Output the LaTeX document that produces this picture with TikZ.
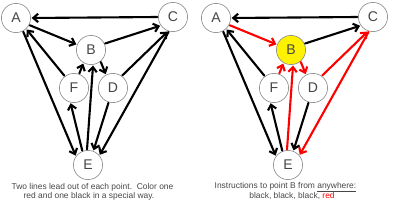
\documentclass[tikz,border=0pt]{standalone}
\usepackage{fontspec}
\setmainfont{Liberation Sans}
\usetikzlibrary{arrows.meta}
\definecolor{ringgray}{RGB}{140,140,140}
\definecolor{textgray}{RGB}{70,70,70}
\begin{document}
\begin{tikzpicture}[x=0.05cm,y=-0.05cm,line join=round,line cap=round,>={Straight Barb[length=7pt,width=12pt]}]
	\tikzset{pt/.style={circle,draw=ringgray,line width=0.9pt,minimum size=1.46cm,inner sep=0pt,text=textgray,font=\fontsize{20}{20}\selectfont},
		link/.style={->,line width=3pt,shorten >=1pt,shorten <=1pt},
		caption/.style={text=textgray,font=\fontsize{12}{14}\selectfont,inner sep=0pt}}
	\useasboundingbox (0,0) rectangle (400,206);
	% the two copies of the six points
	\foreach \ox/\s/\bfill in {0/l/white,200/r/yellow}{
		\node[pt] (\s A) at (\ox+16,18) {A};
		\node[pt] (\s C) at (\ox+173,17) {C};
		\node[pt,fill=\bfill] (\s B) at (\ox+91,50) {B};
		\node[pt] (\s F) at (\ox+74,88) {F};
		\node[pt] (\s D) at (\ox+113,88) {D};
		\node[pt] (\s E) at (\ox+88,165) {E};
	}
	% from/angle/to/angle/colour on the right
	\foreach \a/\sa/\b/\sb/\c in {C/180/A/0/black, A/-28/B/159/red, F/128/A/-47/black,
		A/-62/E/144/black, B/25/C/215/black, F/70/B/240/red, B/-50/D/118/red,
		D/54/C/251/red, C/-106/E/40/red, D/-107/E/69/black, E/112/F/-104/black, E/94/B/-82/red}
	{
		\draw[link] (l\a.\sa) -- (l\b.\sb);
		\draw[link,\c] (r\a.\sa) -- (r\b.\sb);
	}
	\node[caption] (lcap1) at (92.5,187) {Two lines lead out of each point.\ \ Color one};
	\node[caption] (lcap2) at (89,196) {red and one black in a special way.};
	\node[caption] (rcap1) at (285.5,187) {Instructions to point B from \underline{anywhere:}};
	\node[caption] (rcap2) at (292,196) {black, black, black, \textcolor{red}{red}};
\end{tikzpicture}
\end{document}
